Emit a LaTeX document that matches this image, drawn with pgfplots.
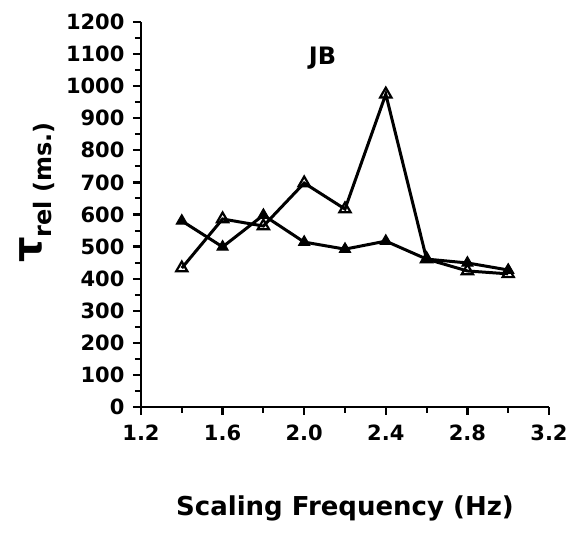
\documentclass[border=0pt]{standalone}
\usepackage{pgfplots}
\pgfplotsset{compat=1.18}
\usepackage{fontspec}
\setmainfont{DejaVu Sans}
\begin{document}
\begin{tikzpicture}
\begin{axis}[
  scale only axis,
  width=408pt, height=385pt,
  xmin=1.2, xmax=3.2, ymin=0, ymax=1200,
  axis lines=left,
  axis line style={line width=2.8pt,-},
  xtick={1.2,1.6,2.0,2.4,2.8,3.2},
  xticklabels={1.2,1.6,2.0,2.4,2.8,3.2},
  minor xtick={1.4,1.8,2.2,2.6,3.0},
  ytick={0,100,...,1200},
  minor ytick={50,150,...,1150},
  /pgf/number format/1000 sep={},
  tick align=outside,
  major tick length=8pt, minor tick length=6pt,
  tick style={line width=2.2pt, black},
  minor tick style={line width=2pt, black},
  tick label style={font=\fontsize{21}{22}\selectfont\bfseries},
  /pgf/number format/assume math mode=true,
  xticklabel style={yshift=-6pt},
  yticklabel style={xshift=-5pt},
  xlabel={\fontsize{26}{28}\selectfont\bfseries Scaling Frequency (Hz)},
  xlabel style={yshift=-48pt},
  ylabel={{\fontsize{40}{40}\selectfont\bfseries τ}\raisebox{-10pt}{\fontsize{24}{24}\selectfont\bfseries rel (ms.)}},
  ylabel style={yshift=4pt, xshift=22pt},
  clip=false,
]
\addplot[black, line width=3pt, mark=triangle, mark size=6.5pt, mark options={line width=2.2pt, fill=white}]
coordinates {(1.4,433) (1.6,586) (1.8,564) (2.0,698) (2.2,617) (2.4,975) (2.6,461) (2.8,424) (3.0,415)};
\addplot[black, line width=3pt, mark=triangle*, mark size=6.5pt, mark options={line width=1pt, fill=black}]
coordinates {(1.4,580) (1.6,499) (1.8,598) (2.0,514) (2.2,492) (2.4,517) (2.6,461) (2.8,449) (3.0,427)};
\node[font=\fontsize{24}{24}\selectfont\bfseries] at (axis cs:2.09,1088) {JB};
\end{axis}
\pgfresetboundingbox
\useasboundingbox (-141pt,-130pt) rectangle (437pt,407pt);
\end{tikzpicture}
\end{document}
